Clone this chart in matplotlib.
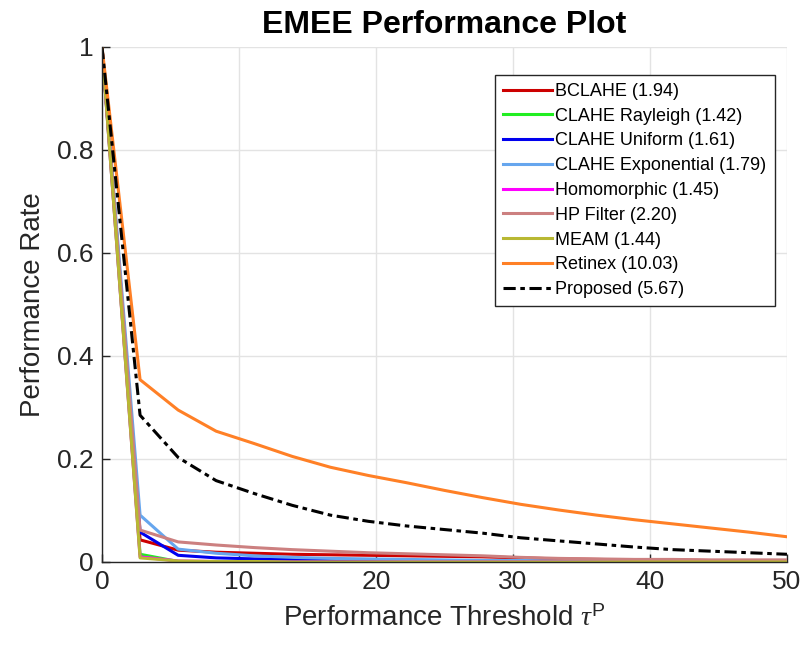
import matplotlib
matplotlib.use("Agg")
import matplotlib.pyplot as plt

plt.rcParams['font.family'] = ['Liberation Sans', 'DejaVu Sans']
plt.rcParams['mathtext.fontset'] = 'custom'
plt.rcParams['mathtext.rm'] = 'Liberation Sans'
plt.rcParams['mathtext.it'] = 'Liberation Serif:italic'

thresholds = [0, 2.78, 5.56, 8.33, 11.11, 13.89, 16.67, 19.44, 22.22, 25.0,
              27.78, 30.56, 33.33, 36.11, 38.89, 41.67, 44.44, 47.22, 50.0]

bclahe = [1, 0.043, 0.023, 0.019, 0.017, 0.015, 0.014, 0.013, 0.012, 0.011,
          0.010, 0.008, 0.006, 0.005, 0.004, 0.004, 0.003, 0.003, 0.003]
clahe_rayleigh = [1, 0.015, 0.001, 0, 0, 0, 0, 0, 0, 0, 0, 0, 0, 0, 0, 0, 0, 0, 0]
clahe_uniform = [1, 0.058, 0.013, 0.008, 0.006, 0.005, 0.004, 0.003, 0.003, 0.002,
                 0.002, 0.002, 0.001, 0.001, 0.001, 0.001, 0.001, 0.001, 0.001]
clahe_exponential = [1, 0.091, 0.025, 0.017, 0.012, 0.009, 0.007, 0.006, 0.005, 0.004,
                     0.003, 0.003, 0.002, 0.002, 0.002, 0.001, 0.001, 0.001, 0.001]
homomorphic = [1, 0.010, 0.002, 0.001, 0, 0, 0, 0, 0, 0, 0, 0, 0, 0, 0, 0, 0, 0, 0]
hp_filter = [1, 0.062, 0.039, 0.033, 0.028, 0.024, 0.021, 0.018, 0.016, 0.014,
             0.012, 0.009, 0.007, 0.006, 0.005, 0.005, 0.004, 0.004, 0.004]
meam = [1, 0.008, 0.002, 0.001, 0.001, 0, 0, 0, 0, 0, 0, 0, 0, 0, 0, 0, 0, 0, 0]
retinex = [1, 0.354, 0.295, 0.254, 0.230, 0.205, 0.184, 0.168, 0.154, 0.139,
           0.125, 0.112, 0.101, 0.091, 0.082, 0.074, 0.066, 0.058, 0.049]
proposed = [1, 0.285, 0.203, 0.158, 0.133, 0.110, 0.091, 0.079, 0.070, 0.063,
            0.056, 0.047, 0.041, 0.035, 0.029, 0.024, 0.021, 0.018, 0.015]

labels = ['BCLAHE (1.94)', 'CLAHE Rayleigh (1.42)', 'CLAHE Uniform (1.61)',
          'CLAHE Exponential (1.79)', 'Homomorphic (1.45)', 'HP Filter (2.20)',
          'MEAM (1.44)', 'Retinex (10.03)', 'Proposed (5.67)']
series = [bclahe, clahe_rayleigh, clahe_uniform, clahe_exponential, homomorphic,
          hp_filter, meam, retinex, proposed]
colors = ['#CC0000', '#22EE22', '#0000EE', '#66A6EE', '#FF00FF',
          '#CC8080', '#B8B833', '#FF8026', '#000000']
styles = ['-'] * 8 + [(0, (4, 1.5, 1.5, 1.5))]

fig = plt.figure(figsize=(8.05, 6.58), dpi=100)
ax = fig.add_axes([0.1267, 0.1459, 0.8509, 0.7827])

for y, lab, c, ls in zip(series, labels, colors, styles):
    ax.plot(thresholds, y, color=c, linestyle=ls, linewidth=2.2, label=lab)

ax.set_xlim(0, 50)
ax.set_ylim(0, 1)
ax.set_xticks([0, 10, 20, 30, 40, 50])
ax.set_yticks([0, 0.2, 0.4, 0.6, 0.8, 1])
ax.set_yticklabels(['0', '0.2', '0.4', '0.6', '0.8', '1'])
ax.grid(True, color='#e3e3e3', linewidth=1)
ax.set_axisbelow(True)
for s in ['top', 'right']:
    ax.spines[s].set_visible(False)
for s in ['left', 'bottom']:
    ax.spines[s].set_color('#262626')
    ax.spines[s].set_linewidth(1)
ax.tick_params(direction='in', length=6, width=1, color='#262626',
               labelsize=19, labelcolor='#262626', pad=6)

ax.set_title('EMEE Performance Plot', fontsize=23, fontweight='bold', pad=10)
ax.set_xlabel(r'Performance Threshold $\tau^{\mathrm{P}}$', fontsize=20,
              color='#262626', labelpad=8)
ax.set_ylabel('Performance Rate', fontsize=20, color='#262626', labelpad=8)

leg = ax.legend(loc='upper right', bbox_to_anchor=(0.982, 0.946),
                borderaxespad=0, fontsize=13, frameon=True, fancybox=False,
                framealpha=1, edgecolor='#262626', handlelength=2.7,
                handletextpad=0.2, labelspacing=0.43, borderpad=0.45)
leg.get_frame().set_linewidth(1)

fig.savefig('out.png', dpi=100)
